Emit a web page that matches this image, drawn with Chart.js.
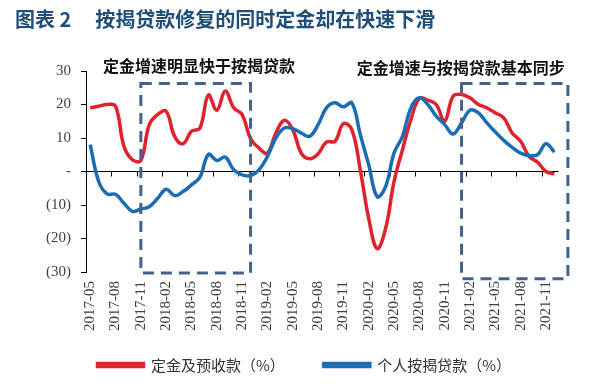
<!DOCTYPE html>
<html>
<head>
<meta charset="utf-8">
<script src="https://cdn.jsdelivr.net/npm/chart.js@4/dist/chart.umd.min.js"></script>
<style>
  body { margin: 0; background: #fff; }
  #wrap { position: relative; width: 604px; height: 389px; }
  #title { position: absolute; left: 15px; top: 4px; font: bold 20px "Noto Sans CJK SC"; color: #1f4e79; white-space: nowrap; }
  #title span { margin-left: 24px; }
  canvas { position: absolute; left: 0; top: 0; }
</style>
</head>
<body>
<div id="wrap">
  <canvas id="chart" width="604" height="389"></canvas>
  <div id="title">图表 2<span>按揭贷款修复的同时定金却在快速下滑</span></div>
</div>
<script>
const months = [
  '2017-05','2017-06','2017-07','2017-08','2017-09','2017-10','2017-11','2017-12',
  '2018-01','2018-02','2018-03','2018-04','2018-05','2018-06','2018-07','2018-08','2018-09','2018-10','2018-11','2018-12',
  '2019-01','2019-02','2019-03','2019-04','2019-05','2019-06','2019-07','2019-08','2019-09','2019-10','2019-11','2019-12',
  '2020-01','2020-02','2020-03','2020-04','2020-05','2020-06','2020-07','2020-08','2020-09','2020-10','2020-11','2020-12',
  '2021-01','2021-02','2021-03','2021-04','2021-05','2021-06','2021-07','2021-08','2021-09','2021-10','2021-11','2021-12'
];

// 定金及预收款 同比 (%)
const depositGrowth = [
  19, 19.5, 20, 19.5, 7.5, 3.5, 3.3, 14,
  17, 18, 10.5, 8.3, 12, 13, 22.8, 18.3, 24, 19, 17, 9.8,
  7, 5.5, 11.5, 15.3, 12.5, 5.5, 3.8, 5.3, 8.8, 9, 14.3, 12.5,
  0.5, -14, -23, -17, -3, 6.5, 15.5, 21.8, 21.3, 20, 15, 22.5,
  23, 22, 20, 19, 17.5, 16, 11.5, 9, 4.5, 2.8, 0, -0.7
];

// 个人按揭贷款 同比 (%)
const mortgageGrowth = [
  8, -3, -6.7, -6.8, -9.5, -11.9, -11.2, -10.5,
  -8, -5.3, -7.2, -6, -4, -1.7, 5.1, 3.3, 4.3, 0.5, -1, -1.2,
  0.5, 4.5, 10, 13, 12.8, 11.5, 10.5, 14, 19, 20.5, 19.3, 20.5,
  11, 2, -7.5, -4.5, 5.5, 10.5, 19, 22, 20, 16.5, 14, 11.2,
  14.5, 18.3, 17.5, 14.5, 11.8, 9.3, 7.2, 5.5, 4.8, 5, 8.3, 5.8
];

const yTicks = [30, 20, 10, 0, -10, -20, -30];

// dashed boxes, in category index / value units
const boxes = [
  { from: 6, to: 19, top: 26.3, bottom: -30.3 },
  { from: 44, to: 56.6, top: 26.3, bottom: -32 }
];
const notes = [
  { text: '定金增速明显快于按揭贷款', at: 12.9, value: 31.5 },
  { text: '定金增速与按揭贷款基本同步', at: 43.9, value: 30.9 }
];

const axisTicks = {
  id: 'axisTicks',
  beforeDatasetsDraw(chart) {
    const { ctx, scales: { x, y } } = chart;
    const y0 = y.getPixelForValue(0);
    const half = (x.getPixelForValue(1) - x.getPixelForValue(0)) / 2;
    ctx.save();
    ctx.strokeStyle = '#000';
    ctx.lineWidth = 1;
    months.forEach((m, i) => {
      if (i === 0 || i % 3) return;
      const px = Math.round(x.getPixelForValue(i) - half) + 0.5;
      ctx.beginPath();
      ctx.moveTo(px, y0);
      ctx.lineTo(px, y0 + 5);
      ctx.stroke();
    });
    ctx.restore();
  }
};

// put the legend row where the original has it
const legendPlace = {
  id: 'legendPlace',
  afterLayout(chart) {
    const lg = chart.legend;
    const dy = (lg.top + lg.options.labels.padding + 7.5) - 365;
    lg.top -= dy; lg.bottom -= dy;
    lg.left += 25; lg.right += 25;
  }
};

const annotations = {
  id: 'annotations',
  afterDraw(chart) {
    const { ctx, scales: { x, y } } = chart;
    const step = x.getPixelForValue(1) - x.getPixelForValue(0);
    const px = v => x.getPixelForValue(0) + v * step;
    ctx.save();
    ctx.strokeStyle = '#44628a';
    ctx.lineWidth = 3;
    ctx.setLineDash([11, 7]);
    boxes.forEach(b => {
      const l = px(b.from), r = px(b.to);
      const t = y.getPixelForValue(b.top), bt = y.getPixelForValue(b.bottom);
      ctx.strokeRect(l, t, r - l, bt - t);
    });
    ctx.setLineDash([]);
    ctx.fillStyle = '#111';
    ctx.font = 'bold 16px "Noto Sans CJK SC"';
    ctx.textAlign = 'center';
    ctx.textBaseline = 'middle';
    notes.forEach(n => {
      ctx.fillText(n.text, px(n.at), y.getPixelForValue(n.value));
    });
    ctx.restore();
  }
};

const ctx = document.getElementById('chart').getContext('2d');
const chart = new Chart(ctx, {
  type: 'line',
  data: {
    labels: months,
    datasets: [{
      label: '定金及预收款（%）',
      data: depositGrowth,
      borderColor: '#e0222c',
      backgroundColor: '#e0222c',
      borderWidth: 3.5,
      pointRadius: 0,
      tension: 0.4,
      order: 1
    }, {
      label: '个人按揭贷款（%）',
      data: mortgageGrowth,
      borderColor: '#1a6db3',
      backgroundColor: '#1a6db3',
      borderWidth: 3.5,
      pointRadius: 0,
      tension: 0.4,
      order: 0
    }]
  },
  options: {
    responsive: false,
    animation: false,
    layout: { padding: { top: 71, right: 45.4, bottom: -17, left: 0 } },
    plugins: {
      tooltip: { enabled: false },
      legend: {
        position: 'bottom',
        labels: {
          boxWidth: 46,
          boxHeight: 3,
          padding: 39,
          color: '#333',
          font: { family: '"Noto Sans CJK SC"', size: 15 },
          sort: (a, b) => a.datasetIndex - b.datasetIndex
        }
      }
    },
    scales: {
      x: {
        offset: true,
        grid: { display: false, drawTicks: false },
        border: { display: false },
        ticks: {
          autoSkip: false,
          maxRotation: 90,
          minRotation: 90,
          padding: 9,
          color: '#404040',
          font: { family: '"Liberation Serif"', size: 15 },
          callback: (v, i) => (i % 3 === 0 ? months[i] : null)
        },
        afterFit: s => { s.height = 70; }
      },
      y: {
        min: -30,
        max: 30,
        afterBuildTicks: s => { s.ticks = yTicks.map(v => ({ value: v })); },
        grid: {
          drawOnChartArea: true,
          color: c => (c.tick && c.tick.value === 0 ? '#000' : 'rgba(0,0,0,0)'),
          tickColor: '#000',
          tickLength: 5
        },
        border: { display: true, color: '#000', width: 1 },
        ticks: {
          padding: 10,
          color: '#404040',
          font: { family: '"Liberation Serif"', size: 15 },
          callback: v => (v === 0 ? '-' : v < 0 ? '(' + (-v) + ')' : String(v))
        },
        afterFit: s => { s.width = 86; }
      }
    }
  },
  plugins: [axisTicks, legendPlace, annotations]
});
</script>
</body>
</html>
